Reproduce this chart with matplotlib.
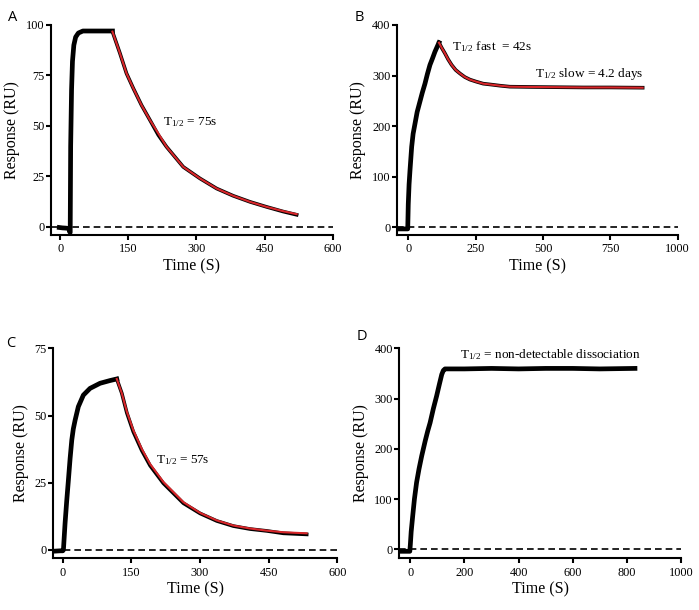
import matplotlib
matplotlib.use('Agg')
import matplotlib.pyplot as plt

plt.rcParams['font.family'] = ['Liberation Serif']
plt.rcParams['mathtext.fontset'] = 'custom'
plt.rcParams['mathtext.rm'] = 'Liberation Serif'
plt.rcParams['mathtext.it'] = 'Liberation Serif:italic'

# Panel A: association + dissociation (T1/2 = 75 s)
a_t = [-2, 5, 12, 19, 21, 22, 23, 25, 27, 30, 34, 40, 50, 70, 90, 115]
a_y = [-0.3, -0.5, -0.6, -0.8, -2.5, -2.8, 40, 68, 82, 90, 94, 96, 97, 97, 97, 97]
a_fit_t = [115, 131.5, 146, 161, 179, 197.6, 216, 234, 271, 307.7, 344.5, 381, 418, 454.6, 491, 520.7]
a_fit_y = [96.7, 86, 76, 68.6, 60.3, 52.9, 46.3, 39.7, 29.7, 24, 19, 15.4, 12.4, 9.9, 7.8, 6.3]
a_obs_y = [96.7, 86, 76, 68.6, 60.3, 52.9, 45.5, 39.7, 29.7, 24, 19, 15.4, 12.4, 9.9, 7.6, 6.0]

# Panel B: biphasic dissociation
b_t = [-40, -20, -2, 0, 3, 6.3, 12.6, 18, 25, 33, 43, 52, 62, 71, 80.5, 90, 99, 114]
b_y = [-3, -3, -3, 46, 85, 112, 159, 185, 205, 228, 248, 266, 284, 303, 321, 334, 347, 365]
b_fit_t = [114, 125, 136, 148, 161, 176, 192, 210, 229, 252, 278, 310, 340, 377, 450, 550, 650, 750, 870]
b_fit_y = [365, 354, 344, 332, 321, 311, 304, 297, 292, 288, 284, 282, 280, 278, 277.5, 277, 276.5, 276.5, 276]

# Panel C: association + dissociation (T1/2 = 57 s)
c_t = [-15, -5, 0, 1.4, 5, 8.5, 12.3, 16, 19.7, 23, 27, 34, 45, 59.6, 81.5, 103, 118]
c_y = [-0.4, -0.3, -0.3, 0, 9.9, 18, 26, 34, 40.9, 45, 48.3, 53.3, 57.6, 60.1, 62, 63, 63.6]
c_fit_t = [118, 129, 140, 154, 172.6, 190.7, 219.8, 263.5, 300, 336.5, 372.7, 409, 445.7, 482, 533]
c_fit_y = [63.6, 58.3, 51.4, 44.6, 37.6, 32, 25.3, 17.8, 13.8, 11, 9.1, 8, 7.2, 6.6, 6.2]
c_obs_y = [63.6, 58.3, 51, 44, 37, 31.4, 24.8, 17.4, 13.6, 10.8, 8.9, 7.8, 7.1, 6.2, 5.8]

# Panel D: no detectable dissociation
d_t = [-40, -20, -2, 0, 3, 8.6, 15, 23, 32, 42, 55, 64, 73, 85, 97, 107, 116, 122, 128,
       200, 300, 400, 500, 600, 700, 830]
d_y = [-4, -4, -4, 10, 35, 66, 100, 133, 160, 186, 216, 235, 252, 280, 305, 328, 348, 356, 359,
       359, 360, 359, 360, 360, 359, 360]

panels = [
    dict(letter='A', pos=[0.0725, 0.6148, 0.4034, 0.3443], xlim=(-21, 600), ylim=(-4, 100),
         xt=[0, 150, 300, 450, 600], yt=[0, 25, 50, 75, 100],
         t=a_t, y=a_y, ft=a_fit_t, fy=a_fit_y, oy=a_obs_y,
         notes=[(226, 52, r'T$_{\mathrm{1/2}}$ = 75s')], lxy=(0.011, 0.983)),
    dict(letter='B', pos=[0.5675, 0.6148, 0.4020, 0.3443], xlim=(-43, 1000), ylim=(-15, 400),
         xt=[0, 250, 500, 750, 1000], yt=[0, 100, 200, 300, 400],
         t=b_t, y=b_y, ft=b_fit_t, fy=b_fit_y, oy=b_fit_y,
         notes=[(161, 357, r'T$_{\mathrm{1/2}}$ fast  = 42s'),
                (470, 303, r'T$_{\mathrm{1/2}}$ slow = 4.2 days')], lxy=(0.507, 0.983)),
    dict(letter='C', pos=[0.0754, 0.0847, 0.4072, 0.3443], xlim=(-22, 600), ylim=(-3.1, 75),
         xt=[0, 150, 300, 450, 600], yt=[0, 25, 50, 75],
         t=c_t, y=c_y, ft=c_fit_t, fy=c_fit_y, oy=c_obs_y,
         notes=[(204, 33.5, r'T$_{\mathrm{1/2}}$ = 57s')], lxy=(0.009, 0.449)),
    dict(letter='D', pos=[0.5712, 0.0847, 0.4030, 0.3443], xlim=(-41, 1000), ylim=(-18, 400),
         xt=[0, 200, 400, 600, 800, 1000], yt=[0, 100, 200, 300, 400],
         t=d_t, y=d_y, ft=None, fy=None, oy=None,
         notes=[(184, 387, r'T$_{\mathrm{1/2}}$ = non-detectable dissociation')], lxy=(0.510, 0.461)),
]

fig = plt.figure(figsize=(6.99, 6.10), dpi=100)

for p in panels:
    ax = fig.add_axes(p['pos'])
    ax.axhline(0, color='black', lw=1.2, dashes=(4, 2.4), zorder=1)
    ax.plot(p['t'], p['y'], color='black', lw=3.4, solid_joinstyle='round', zorder=2)
    if p['ft'] is not None:
        ax.plot(p['ft'], p['oy'], color='black', lw=2.6, solid_joinstyle='round', zorder=2)
        ax.plot(p['ft'], p['fy'], color='#d8262a', lw=1.5, solid_joinstyle='round', zorder=3)
    ax.set_xlim(*p['xlim'])
    ax.set_ylim(*p['ylim'])
    ax.set_xticks(p['xt'])
    ax.set_yticks(p['yt'])
    for s in ['top', 'right']:
        ax.spines[s].set_visible(False)
    for s in ['left', 'bottom']:
        ax.spines[s].set_linewidth(1.5)
    ax.tick_params(width=1.5, length=3.6, labelsize=8.8)
    ax.tick_params(axis='y', pad=1)
    ax.tick_params(axis='x', pad=2.5)
    ax.set_xlabel('Time (S)', fontsize=11.5, labelpad=2)
    ax.set_ylabel('Response (RU)', fontsize=11.5, labelpad=4)
    for x, y, s in p['notes']:
        ax.text(x, y, s, fontsize=9.5, va='center', ha='left')
    fig.text(p['lxy'][0], p['lxy'][1], p['letter'], fontsize=10.5, family='Open Sans',
             ha='left', va='top')

fig.savefig('out.png', dpi=100)
